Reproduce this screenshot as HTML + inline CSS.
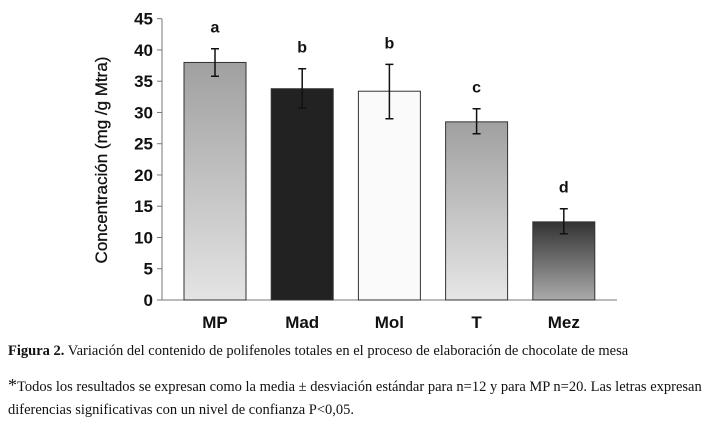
<!DOCTYPE html>
<html><head><meta charset="utf-8"><style>
body{margin:0;background:#fff;width:710px;height:423px;overflow:hidden;position:relative}
.cap{position:absolute;left:8px;font-family:"Liberation Serif",serif;font-size:14.5px;color:#111;white-space:nowrap}
</style></head><body>
<svg width="710" height="340" style="position:absolute;left:0;top:0">
<defs>
<linearGradient id="gMP" x1="0" y1="0" x2="0" y2="1"><stop offset="0" stop-color="#a0a0a0"/><stop offset="1" stop-color="#e4e4e4"/></linearGradient>
<linearGradient id="gMad" x1="0" y1="0" x2="0" y2="1"><stop offset="0" stop-color="#222"/><stop offset="1" stop-color="#222"/></linearGradient>
<linearGradient id="gMol" x1="0" y1="0" x2="0" y2="1"><stop offset="0" stop-color="#fafafa"/><stop offset="1" stop-color="#fafafa"/></linearGradient>
<linearGradient id="gT" x1="0" y1="0" x2="0" y2="1"><stop offset="0" stop-color="#a0a0a0"/><stop offset="1" stop-color="#e6e6e6"/></linearGradient>
<linearGradient id="gMez" x1="0" y1="0" x2="0" y2="1"><stop offset="0" stop-color="#333"/><stop offset="1" stop-color="#aaa"/></linearGradient>
</defs>
<g id="plot"></g>
<text transform="translate(107,160) rotate(-90)" text-anchor="middle" font-family="Liberation Sans, sans-serif" font-size="17" fill="#111" stroke="#111" stroke-width="0.3">Concentración (mg /g Mtra)</text>
</svg>
<div class="cap" style="top:343px"><b>Figura 2.</b> Variación del contenido de polifenoles totales en el proceso de elaboración de chocolate de mesa</div>
<div class="cap" style="top:374px;line-height:23px"><span style="font-size:18px">*</span>Todos los resultados se expresan como la media ± desviación estándar para n=12 y para MP n=20. Las letras expresan<br>diferencias significativas con un nivel de confianza P&lt;0,05.</div>
<script>
const categories=["MP","Mad","Mol","T","Mez"];
const values=[38,33.8,33.4,28.5,12.5];
const errLow=[35.8,30.7,29,26.6,10.6];
const errHigh=[40.2,37,37.7,30.6,14.6];
const letters=["a","b","b","c","d"];
const ticks=[0,5,10,15,20,25,30,35,40,45];
const NS="http://www.w3.org/2000/svg";
const g=document.getElementById("plot");
const x0=162,x1=617,y0=300,yTop=18.7,ymax=45;
const y=v=>y0-(y0-yTop)*v/ymax;
const slot=87.2;
const xc=i=>215+slot*i;
function mk(t,a){const e=document.createElementNS(NS,t);for(const k in a)e.setAttribute(k,a[k]);g.appendChild(e);return e;}
let ax=mk("line",{x1:x0,y1:y0,x2:x0,y2:yTop,stroke:"#777","stroke-width":1});


let bx=mk("line",{x1:x0-5,y1:y0,x2:x1,y2:y0,stroke:"#777","stroke-width":1});


ticks.forEach(t=>{
 mk("line",{x1:x0-5,y1:y(t),x2:x0,y2:y(t),stroke:"#777"});
 const tx=mk("text",{x:x0-9,y:y(t)+6,"text-anchor":"end","font-family":"Liberation Sans, sans-serif","font-size":17,"font-weight":"bold",fill:"#111"});
 tx.textContent=t;
 
 
});
const fills=["gMP","gMad","gMol","gT","gMez"];
categories.forEach((c,i)=>{
 const w=62,cx=xc(i);
 const r=mk("rect",{x:cx-w/2,y:y(values[i]),width:w,height:y0-y(values[i]),fill:"url(#"+fills[i]+")",stroke:"#333","stroke-width":1});
 
 
 const e=mk("path",{d:`M${cx},${y(errLow[i])}V${y(errHigh[i])}M${cx-4},${y(errLow[i])}H${cx+4}M${cx-4},${y(errHigh[i])}H${cx+4}`,stroke:"#111","stroke-width":1.5,fill:"none"});
 
 
 const l=mk("text",{x:cx,y:y(errHigh[i])-16,"text-anchor":"middle","font-family":"Liberation Sans, sans-serif","font-size":16,"font-weight":"bold",fill:"#111"});
 l.textContent=letters[i];
 
 
 const xl=mk("text",{x:cx,y:328,"text-anchor":"middle","font-family":"Liberation Sans, sans-serif","font-size":17,"font-weight":"bold",fill:"#111"});
 xl.textContent=c;
 
 
});
</script>
</body></html>
